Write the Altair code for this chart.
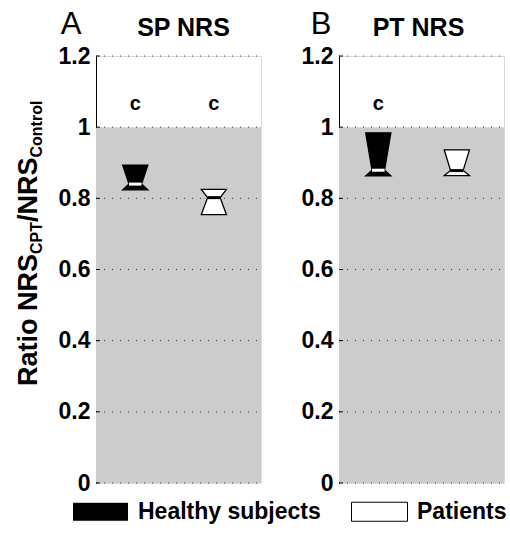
import altair as alt
import pandas as pd

FONT = "Liberation Sans"

# groups and their x positions inside each panel
groups = ["Healthy subjects", "Patients"]
group_pos = [1, 2]

# SP NRS ratios: upper notch edge, median, lower notch edge
sp_upper = [0.893, 0.825]
sp_median = [0.840, 0.802]
sp_lower = [0.824, 0.754]
sp_marks = ["c", "c"]

# PT NRS ratios
pt_upper = [0.984, 0.936]
pt_median = [0.879, 0.878]
pt_lower = [0.863, 0.864]
pt_marks = ["c", ""]

y_ticks = [0, 0.2, 0.4, 0.6, 0.8, 1.0, 1.2]
shaded_lo, shaded_hi = 0.0, 1.0
sig_level = 1.065

W, H = 165, 427
HALF = 0.16

# Arial-bold advance widths (em) for laying out the y-axis label pieces
ADV = {"R": .722, "a": .556, "t": .333, "i": .278, "o": .611, " ": .278,
       "N": .722, "S": .667, "C": .722, "P": .667, "T": .611, "/": .278,
       "n": .611, "r": .389, "l": .278}

yscale = alt.Scale(domain=[0, 1.2], nice=False, zero=False)
xscale = alt.Scale(domain=[0.5, 2.6], nice=False, zero=False)
yaxis = alt.Axis(values=y_ticks, format="~g", grid=False, ticks=False,
                 domainColor="black", domainWidth=1,
                 labelFont=FONT, labelFontSize=23, labelFontWeight="bold",
                 labelColor="black", labelPadding=6)


def Y(field):
    return alt.Y(field, scale=yscale, axis=yaxis, title=None)


def box_frame(upper, median, lower):
    rows = []
    for g, p, u, m, l in zip(groups, group_pos, upper, median, lower):
        rows += [
            dict(group=g, y=l, xl=p - HALF, xr=p + HALF),
            dict(group=g, y=m, xl=p - HALF / 2, xr=p + HALF / 2),
            dict(group=g, y=u, xl=p - HALF, xr=p + HALF),
        ]
    return pd.DataFrame(rows)


def ylabel_frame(start_y, base_x, big, small, shift):
    pieces = [("Ratio NRS", big, 0), ("CPT", small, shift),
              ("/NRS", big, 0), ("Control", small, shift)]
    rows, y = [], start_y
    for txt, size, dx in pieces:
        rows.append(dict(t=txt, px=base_x + dx, py=y, fs=size))
        y -= sum(ADV[c] for c in txt) * size
    return pd.DataFrame(rows)


def panel(title, title_dx, letter, letter_x, upper, median, lower, marks, with_ylabel):
    band = alt.Chart(pd.DataFrame({"lo": [shaded_lo], "hi": [shaded_hi]})).mark_rect(
        color="#cccccc"
    ).encode(x=alt.value(0), x2=alt.value(W), y=Y("lo:Q"), y2="hi:Q")
    grid = alt.Chart(pd.DataFrame({"v": y_ticks})).mark_rule(
        color="#333333", strokeDash=[1, 7], strokeWidth=1
    ).encode(y=Y("v:Q"), x=alt.value(0), x2=alt.value(W))
    ticks = alt.Chart(pd.DataFrame({"v": y_ticks})).mark_rule(
        color="black", strokeWidth=1
    ).encode(y=Y("v:Q"), x=alt.value(0), x2=alt.value(4))

    boxes = alt.Chart(box_frame(upper, median, lower)).mark_area(
        orient="horizontal", stroke="black", strokeWidth=1.3, opacity=1, fillOpacity=1
    ).encode(
        y=Y("y:Q"),
        x=alt.X("xl:Q", scale=xscale, axis=None, stack=None),
        x2="xr:Q",
        detail="group:N",
        fill=alt.Fill("group:N", scale=alt.Scale(domain=groups, range=["black", "white"]),
                      legend=alt.Legend(
                          orient="none", legendX=-24, legendY=427, direction="horizontal",
                          title=None, padding=0,
                          symbolType="M-1,-0.34L1,-0.34L1,0.34L-1,0.34Z", symbolSize=3136,
                          symbolStrokeColor="black", symbolStrokeWidth=1, symbolOpacity=1,
                          labelFont=FONT, labelFontSize=23, labelFontWeight="bold",
                          labelColor="black", labelOffset=9, labelLimit=400,
                          columnPadding=28)),
    )

    med_df = pd.DataFrame({"group": groups, "m": median,
                           "a": [p - HALF / 2 for p in group_pos],
                           "b": [p + HALF / 2 for p in group_pos]})
    medians = alt.Chart(med_df).mark_rule(strokeWidth=3).encode(
        y=Y("m:Q"),
        x=alt.X("a:Q", scale=xscale, axis=None),
        x2="b:Q",
        stroke=alt.Stroke("group:N", scale=alt.Scale(domain=groups, range=["white", "black"]),
                          legend=None),
    )

    sig = alt.Chart(pd.DataFrame({"p": group_pos, "t": marks, "lvl": [sig_level] * 2})).mark_text(
        font=FONT, fontSize=20, fontWeight="bold", color="black", baseline="middle"
    ).encode(
        x=alt.X("p:Q", scale=xscale, axis=None),
        y=Y("lvl:Q"),
        text="t:N",
    )

    head = alt.Chart(pd.DataFrame({"t": [title]})).mark_text(
        font=FONT, fontSize=25, fontWeight="bold", color="black", baseline="alphabetic"
    ).encode(text="t:N", x=alt.value(W / 2 + title_dx), y=alt.value(-20))
    let = alt.Chart(pd.DataFrame({"t": [letter]})).mark_text(
        font=FONT, fontSize=31, color="black", baseline="alphabetic"
    ).encode(text="t:N", x=alt.value(letter_x), y=alt.value(-22))

    layers = [band, grid, ticks, boxes, medians, sig, head, let]
    if with_ylabel:
        ylab = alt.Chart(ylabel_frame(330, -59, 27, 16, 5)).mark_text(
            font=FONT, fontWeight="bold", color="black", angle=270,
            align="left", baseline="alphabetic"
        ).encode(
            x=alt.X("px:Q", scale=None), y=alt.Y("py:Q", scale=None),
            text="t:N", size=alt.Size("fs:Q", scale=None, legend=None),
        )
        layers.append(ylab)
    return alt.layer(*layers).properties(width=W, height=H)


left = panel("SP NRS", 5, "A", -25, sp_upper, sp_median, sp_lower, sp_marks, True)
right = panel("PT NRS", -3, "B", -18, pt_upper, pt_median, pt_lower, pt_marks, False)

chart = alt.hconcat(left, right, spacing=38).properties(
    padding={"left": 14, "top": 8, "right": 0, "bottom": 0}
).configure_view(stroke=None).configure(background="white")

chart.save("out.html", embed_options={"renderer": "svg", "actions": False})
